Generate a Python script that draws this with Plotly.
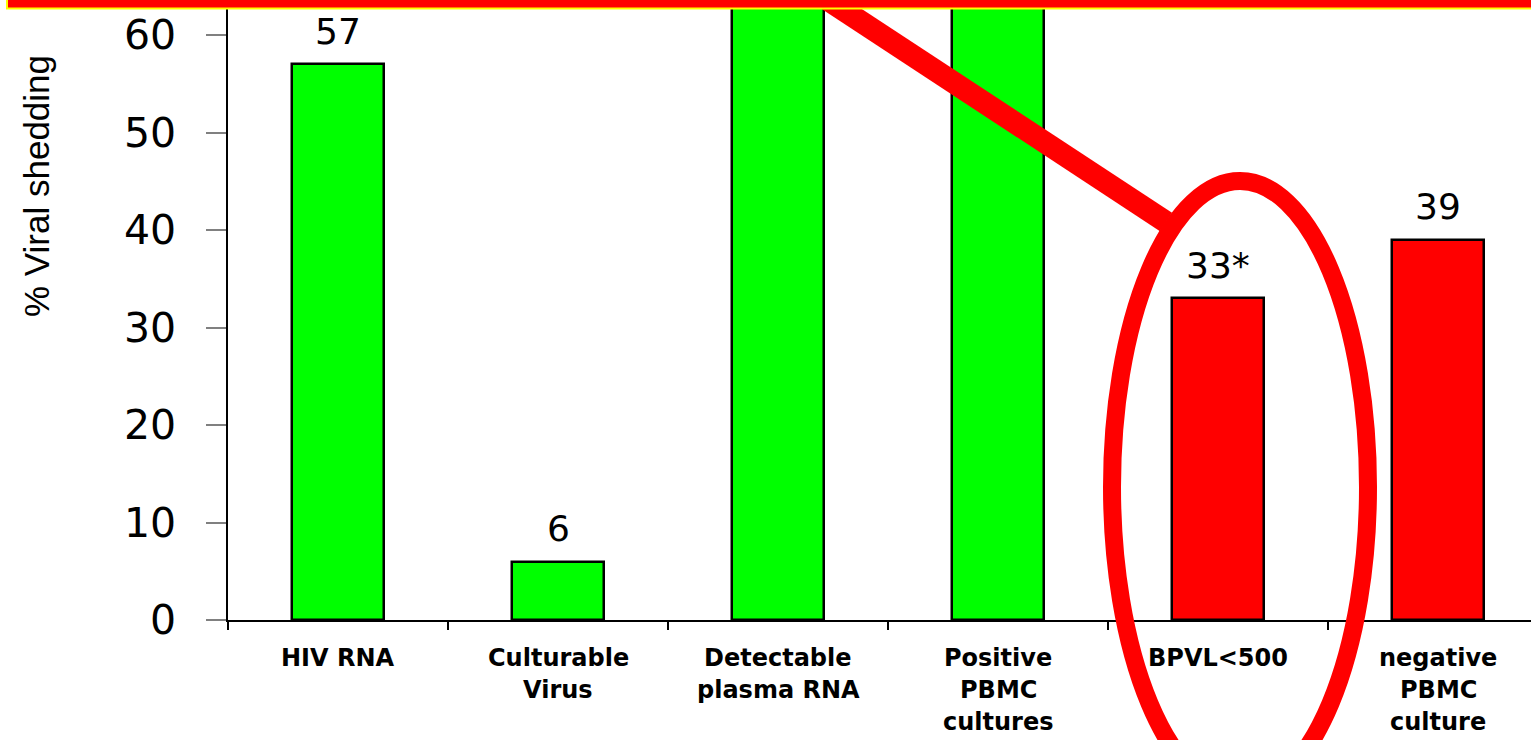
import plotly.graph_objects as go

# Categories and shedding percentages
categories = [
    "HIV RNA",
    "Culturable Virus",
    "Detectable plasma RNA",
    "Positive PBMC cultures",
    "BPVL<500",
    "negative PBMC culture",
]
label_lines = [
    ["HIV RNA"],
    ["Culturable", "Virus"],
    ["Detectable", "plasma RNA"],
    ["Positive", "PBMC", "cultures"],
    ["BPVL&lt;500"],
    ["negative", "PBMC", "culture"],
]
values = [57, 6, 74, 70, 33, 39]
value_labels = ["57", "6", "", "", "33*", "39"]
bar_colors = ["#00FF00", "#00FF00", "#00FF00", "#00FF00", "#FF0000", "#FF0000"]
y_ticks = [0, 10, 20, 30, 40, 50, 60]

W, H = 1531, 740
L, R, T, B = 228, 0, 8, 120
PW, PH = W - L - R, H - T - B
Y_MAX = 62.77
X_MIN, X_MAX = -0.5, -0.5 + PW / 220.0


def px(xp):
    return (xp - L) / PW


def py(yp):
    return (H - B - yp) / PH


fig = go.Figure()
fig.add_trace(go.Bar(
    x=list(range(len(categories))),
    y=values,
    width=0.415,
    marker=dict(color=bar_colors, line=dict(color="black", width=2.5)),
    hoverinfo="skip",
))

annotations = []
# Value labels above bars
for i, (v, t) in enumerate(zip(values, value_labels)):
    if t:
        annotations.append(dict(
            x=i, y=v, xref="x", yref="y", text=t, showarrow=False,
            yanchor="middle", yshift=33,
            font=dict(family="DejaVu Sans", size=36, color="black"),
        ))

# Category labels under the axis, one line at a time
for i, lines in enumerate(label_lines):
    for j, line in enumerate(lines):
        annotations.append(dict(
            x=i, y=py(658 + 32 * j), xref="x", yref="paper", text="<b>%s</b>" % line,
            showarrow=False, yanchor="middle", xanchor="center",
            font=dict(family="DejaVu Sans", size=24, color="black"),
        ))

# Axis title
annotations.append(dict(
    x=px(37), y=py(186), xref="paper", yref="paper", text="% Viral shedding",
    textangle=-90, showarrow=False, xanchor="center", yanchor="middle",
    font=dict(family="Liberation Sans, Arial", size=35, color="black"),
))

shapes = [
    # pointer line toward the highlighted bar
    dict(type="line", xref="paper", yref="paper",
         x0=px(822), y0=py(-4), x1=px(1166), y1=py(222),
         line=dict(color="#FF0000", width=22), layer="above"),
    # highlight ellipse
    dict(type="circle", xref="paper", yref="paper",
         x0=px(1112), x1=px(1368), y0=py(181), y1=py(793),
         line=dict(color="#FF0000", width=18), fillcolor="rgba(0,0,0,0)", layer="above"),
    # banner strip at the top
    dict(type="rect", xref="paper", yref="paper",
         x0=px(7), x1=px(1545), y0=py(8.5), y1=py(-20),
         line=dict(color="#FFFF00", width=2), fillcolor="#FF0000", layer="above"),
]

fig.update_layout(
    width=W, height=H,
    margin=dict(l=L, r=R, t=T, b=B, pad=0),
    paper_bgcolor="white", plot_bgcolor="white",
    showlegend=False,
    annotations=annotations,
    shapes=shapes,
    bargap=0,
)
fig.update_xaxes(
    range=[X_MIN, X_MAX], tickmode="array", tickvals=[i - 0.5 for i in range(len(categories) + 1)],
    ticktext=[""] * (len(categories) + 1),
    ticks="outside", ticklen=8, tickcolor="black", tickwidth=1.5,
    showline=True, linecolor="black", linewidth=1.5, showgrid=False, zeroline=False,
)
fig.update_yaxes(
    range=[0, Y_MAX], tickmode="array", tickvals=y_ticks, ticktext=[str(t) for t in y_ticks],
    ticks="outside", ticklen=20, tickcolor="#808080", tickwidth=1.5,
    ticklabelstandoff=22,
    tickfont=dict(family="DejaVu Sans", size=41, color="black"),
    showline=True, linecolor="black", linewidth=1.5, showgrid=False, zeroline=False,
)

fig.write_html("out.html")
